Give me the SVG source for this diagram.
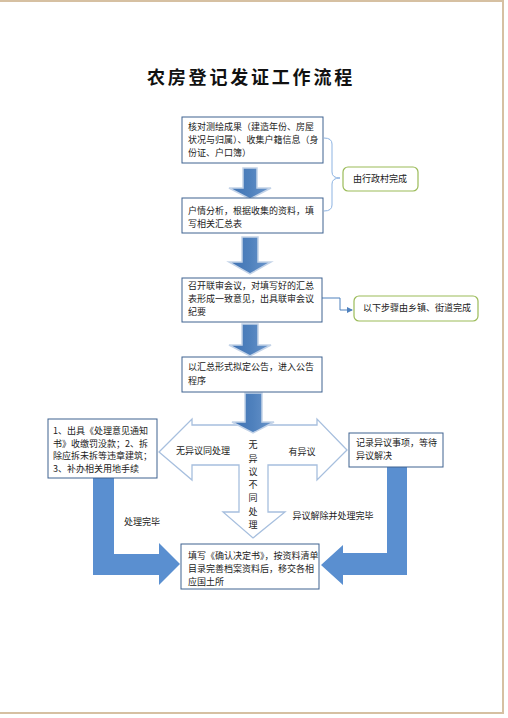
<svg xmlns="http://www.w3.org/2000/svg" width="508" height="718" viewBox="0 0 508 718">
<defs>
<style>
.t{font-family:"Noto Sans CJK SC","Liberation Sans",sans-serif;font-size:9px;fill:#222}
.box{fill:#fff;stroke:#3e6290;stroke-width:1}
.rbox{fill:#fff;stroke:#9bbb59;stroke-width:1.2}
.down{fill:url(#dg);stroke:#c3d3e8;stroke-width:1.5;stroke-linejoin:miter}
.big{fill:#5a8fd0;stroke:none}
.hollow{fill:#fff;stroke:#a7bfde;stroke-width:1.3}
.brace{fill:none;stroke:#8db3e2;stroke-width:1}
.conn{fill:none;stroke:#4f81bd;stroke-width:1}
</style>
<linearGradient id="dg" x1="0" y1="0" x2="1" y2="0">
<stop offset="0" stop-color="#3f72b3"/>
<stop offset="0.5" stop-color="#4f81bd"/>
<stop offset="1" stop-color="#6d97cc"/>
</linearGradient>
<marker id="ah" viewBox="0 0 6 6" refX="5" refY="3" markerWidth="6" markerHeight="6" orient="auto" markerUnits="userSpaceOnUse">
<path d="M0,0 L6,3 L0,6 z" fill="#4f81bd"/>
</marker>
</defs>
<rect x="0" y="0" width="508" height="718" fill="#fff"/>
<g id="page-border" fill="none" stroke="#d6c0a2" stroke-width="2">
<line x1="0" y1="1" x2="504" y2="1"/>
<line x1="503" y1="0" x2="503" y2="714"/>
<line x1="0" y1="713" x2="504" y2="713"/>
</g>
<g id="title">
<text x="147" y="84" style="font-family:'Noto Sans CJK SC','Liberation Sans',sans-serif;font-size:18px;font-weight:700;letter-spacing:2.8px;fill:#111">农房登记发证工作流程</text>
</g>
<g id="connectors">
<path class="brace" d="M324,138 Q332,138 332,144 L332,172 Q332,178 340,178 Q332,178 332,184 L332,205 Q332,211 324,211"/>
<path class="conn" d="M322,298 L340,298 L340,310 L352,310" marker-end="url(#ah)"/>
<polygon class="down" points="243,168 257,168 257,188 271,188 250,199 229,188 243,188"/>
<polygon class="down" points="242,237 258,237 258,262 271,262 250,274 229,262 242,262"/>
<polygon class="down" points="242,324 258,324 258,345 271,345 250,356 229,345 242,345"/>
<polygon class="hollow" points="159,452 192,419 192,425 317,425 317,419 347,450 317,480 317,465 268,465 268,512 285,512 253,538 223,512 239,512 239,465 192,465 192,480"/>
<polygon class="down" points="245,393 262,393 262,422 274,422 253,433 232,422 245,422"/>
<polygon class="big" points="93,478 114,478 114,554 159,554 159,543 180,564 159,585 159,575 93,575"/>
<polygon class="big" points="387,467 407,467 407,575 343,575 343,585 321,565 343,545 343,553 387,553"/>
<text class="t" x="203" y="454" text-anchor="middle">无异议同处理</text>
<text class="t" x="302" y="455" text-anchor="middle">有异议</text>
<text class="t" x="253" y="448" text-anchor="middle">无</text>
<text class="t" x="253" y="462" text-anchor="middle">异</text>
<text class="t" x="253" y="475" text-anchor="middle">议</text>
<text class="t" x="253" y="488" text-anchor="middle">不</text>
<text class="t" x="253" y="501" text-anchor="middle">同</text>
<text class="t" x="253" y="515" text-anchor="middle">处</text>
<text class="t" x="253" y="528" text-anchor="middle">理</text>
<text class="t" x="142" y="525" text-anchor="middle">处理完毕</text>
<text class="t" x="333" y="519" text-anchor="middle">异议解除并处理完毕</text>
</g>
<g id="node-verify">
<rect class="box" x="182" y="117" width="141" height="46"/>
<text class="t" x="188" y="130">核对测绘成果（建造年份、房屋</text>
<text class="t" x="188" y="143">状况与归属）、收集户籍信息（身</text>
<text class="t" x="188" y="156">份证、户口簿）</text>
</g>
<g id="node-analyze">
<rect class="box" x="182" y="198" width="141" height="35"/>
<text class="t" x="188" y="214">户情分析，根据收集的资料，填</text>
<text class="t" x="188" y="227">写相关汇总表</text>
</g>
<g id="node-village">
<rect class="rbox" x="343" y="167" width="75" height="24" rx="5"/>
<text class="t" x="380" y="182" text-anchor="middle">由行政村完成</text>
</g>
<g id="node-meeting">
<rect class="box" x="182" y="278" width="140" height="44"/>
<text class="t" x="188" y="289">召开联审会议，对填写好的汇总</text>
<text class="t" x="188" y="302">表形成一致意见，出具联审会议</text>
<text class="t" x="188" y="315">纪要</text>
</g>
<g id="node-town">
<rect class="rbox" x="354" y="296" width="124" height="25" rx="5"/>
<text class="t" x="417" y="311" text-anchor="middle">以下步骤由乡镇、街道完成</text>
</g>
<g id="node-notice">
<rect class="box" x="182" y="357" width="140" height="35"/>
<text class="t" x="188" y="370">以汇总形式拟定公告，进入公告</text>
<text class="t" x="188" y="384">程序</text>
</g>
<g id="node-handle">
<rect class="box" x="48" y="419" width="109" height="59"/>
<text class="t" x="53" y="434">1、出具《处理意见通知</text>
<text class="t" x="53" y="446.5">书》收缴罚没款；2、拆</text>
<text class="t" x="53" y="459">除应拆未拆等违章建筑；</text>
<text class="t" x="53" y="472">3、补办相关用地手续</text>
</g>
<g id="node-objection">
<rect class="box" x="349" y="433" width="94" height="34"/>
<text class="t" x="356" y="446">记录异议事项，等待</text>
<text class="t" x="356" y="459">异议解决</text>
</g>
<g id="node-confirm">
<rect class="box" x="181" y="544" width="138" height="45"/>
<text class="t" x="188" y="559">填写《确认决定书》，按资料清单</text>
<text class="t" x="188" y="572">目录完善档案资料后，移交各相</text>
<text class="t" x="188" y="585">应国土所</text>
</g>
</svg>
